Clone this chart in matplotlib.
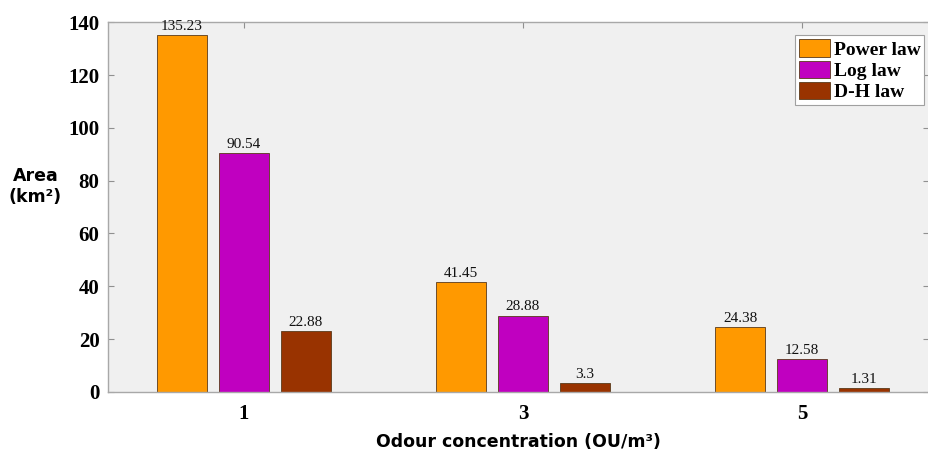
import numpy as np
import matplotlib.pyplot as plt

concentrations = [1, 3, 5]
series_names = ["Power law", "Log law", "D-H law"]
power_law = [135.23, 41.45, 24.38]
log_law = [90.54, 28.88, 12.58]
dh_law = [22.88, 3.3, 1.31]
colors = ["#FF9900", "#C000C0", "#993300"]

serif = ["Liberation Serif", "DejaVu Serif"]

fig = plt.figure(figsize=(9.29, 4.53), dpi=100)
ax = fig.add_axes([0.116, 0.135, 0.884, 0.816])
ax.set_facecolor("#f0f0f0")

x = np.array(concentrations, dtype=float)
width = 0.358
offset = 0.444
for i, (vals, name, c) in enumerate(zip([power_law, log_law, dh_law], series_names, colors)):
    pos = x + (i - 1) * offset
    bars = ax.bar(pos, vals, width, color=c, edgecolor="#5a3a1a", linewidth=0.6, label=name, zorder=2)
    for b, v in zip(bars, vals):
        ax.text(b.get_x() + b.get_width() / 2, v + 0.8, f"{v:g}", ha="center", va="bottom",
                family=serif, fontsize=11, color="#111111")

ax.set_xlim(0.025, 5.91)
ax.set_ylim(0, 140)
ax.set_xticks(concentrations)
ax.set_xticklabels([str(c) for c in concentrations])
ax.set_yticks(np.arange(0, 141, 20))
for lab in ax.get_xticklabels() + ax.get_yticklabels():
    lab.set_family(serif)
    lab.set_fontweight("bold")
    lab.set_fontsize(15)
ax.tick_params(direction="in", length=4, color="#909090", top=True, right=True)
ax.tick_params(axis="y", pad=6)
ax.tick_params(axis="x", pad=9)
for s in ax.spines.values():
    s.set_color("#a8a8a8")
    s.set_linewidth(1.0)

ax.set_xlabel("Odour concentration (OU/m³)", fontsize=12.5, fontweight="bold", labelpad=6)
ax.set_ylabel("Area\n(km²)", fontsize=12.5, fontweight="bold", rotation=0, va="center", ha="center")
ax.yaxis.set_label_coords(-0.088, 0.555)

leg = ax.legend(loc="upper right", bbox_to_anchor=(0.999, 0.975), prop={"family": serif, "weight": "bold", "size": 14},
                frameon=True, fancybox=False, edgecolor="#a0a0a0", framealpha=1.0, handlelength=1.6, handleheight=1.0,
                handletextpad=0.2, labelspacing=0.1, borderpad=0.2, borderaxespad=0.2)
leg.get_frame().set_linewidth(0.8)

fig.savefig("out.png", dpi=100)
